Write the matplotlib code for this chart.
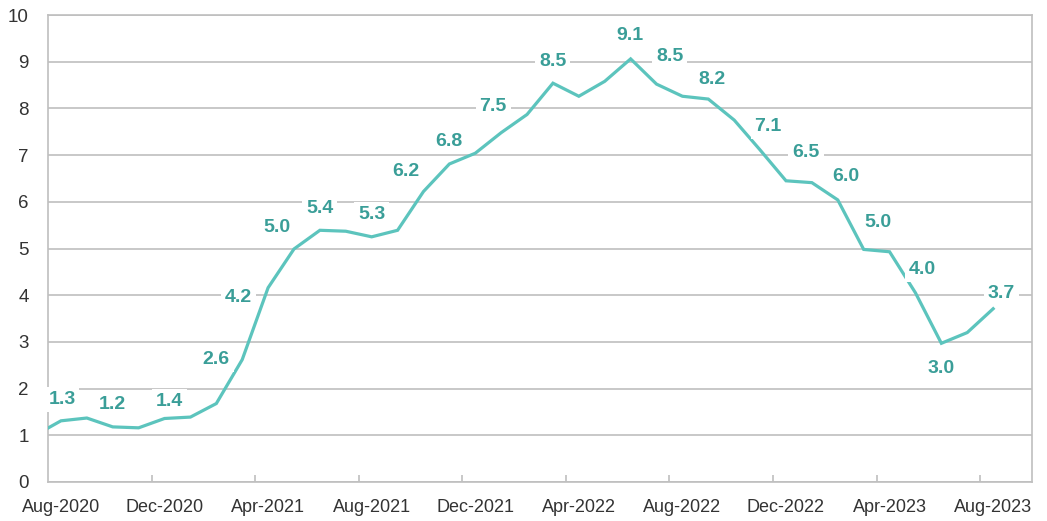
import matplotlib.pyplot as plt
import numpy as np

# monthly values, Jul-2020 .. Aug-2023 (first point sits just off the left edge)
months = ["Jul-2020", "Aug-2020", "Sep-2020", "Oct-2020", "Nov-2020", "Dec-2020",
          "Jan-2021", "Feb-2021", "Mar-2021", "Apr-2021", "May-2021", "Jun-2021",
          "Jul-2021", "Aug-2021", "Sep-2021", "Oct-2021", "Nov-2021", "Dec-2021",
          "Jan-2022", "Feb-2022", "Mar-2022", "Apr-2022", "May-2022", "Jun-2022",
          "Jul-2022", "Aug-2022", "Sep-2022", "Oct-2022", "Nov-2022", "Dec-2022",
          "Jan-2023", "Feb-2023", "Mar-2023", "Apr-2023", "May-2023", "Jun-2023",
          "Jul-2023", "Aug-2023"]
values = [1.0, 1.31, 1.37, 1.18, 1.16, 1.36,
          1.39, 1.68, 2.62, 4.16, 4.99, 5.39,
          5.37, 5.25, 5.39, 6.22, 6.81, 7.04,
          7.48, 7.87, 8.54, 8.26, 8.58, 9.06,
          8.52, 8.26, 8.20, 7.75, 7.11, 6.45,
          6.41, 6.04, 4.98, 4.93, 4.05, 2.97,
          3.20, 3.71]

# labelled months and their printed values
label_months = ["Aug-2020", "Oct-2020", "Dec-2020", "Mar-2021", "Apr-2021", "May-2021",
                "Jun-2021", "Aug-2021", "Oct-2021", "Nov-2021", "Jan-2022", "Mar-2022",
                "Jun-2022", "Jul-2022", "Sep-2022", "Nov-2022", "Dec-2022", "Feb-2023",
                "Mar-2023", "May-2023", "Jun-2023", "Aug-2023"]
label_text = ["1.3", "1.2", "1.4", "2.6", "4.2", "5.0",
              "5.4", "5.3", "6.2", "6.8", "7.5", "8.5",
              "9.1", "8.5", "8.2", "7.1", "6.5", "6.0",
              "5.0", "4.0", "3.0", "3.7"]

tick_months = ["Aug-2020", "Dec-2020", "Apr-2021", "Aug-2021", "Dec-2021",
               "Apr-2022", "Aug-2022", "Dec-2022", "Apr-2023", "Aug-2023"]

# label offsets from their point, in pixels (placement only)
label_offsets = [(1, 21), (0, 22), (5, 17), (-26, 0), (-30, -10), (-17, 21),
                 (0, 22), (0, 22), (-18, 20), (0, 22), (-8, 26), (0, 22),
                 (-1, 23), (13, 28), (4, 20), (8, 23), (20, 28), (8, 23),
                 (14, 27), (7, 23), (0, -25), (8, 15)]

LINE_COLOR = "#5cc4bd"
TEXT_COLOR = "#3a9e98"
GRID_COLOR = "#bfbfbf"

fig = plt.figure(figsize=(10.47, 5.21), dpi=100)
ax = fig.add_axes([48 / 1047, 1 - 482 / 521, (1032 - 48) / 1047, (482 - 15) / 521])

x = np.arange(len(months))
ax.plot(x, values, color=LINE_COLOR, lw=2.3, solid_joinstyle="miter", zorder=3)

for name, txt, (dx, dy) in zip(label_months, label_text, label_offsets):
    i = months.index(name)
    ax.annotate(txt, (i, values[i]), xytext=(dx, dy), textcoords="offset pixels",
                ha="center", va="center", fontsize=14, fontweight="bold",
                family="Liberation Sans", color=TEXT_COLOR, zorder=4,
                bbox=dict(boxstyle="square,pad=0.2", fc="white", ec="none"))

ax.set_xlim(0.5, 38.5)
ax.set_ylim(0, 10)
ax.set_yticks(range(0, 11))
ax.grid(axis="y", color=GRID_COLOR, lw=1.2)
ax.set_axisbelow(True)

ax.set_xticks([months.index(m) for m in tick_months])
ax.set_xticklabels(tick_months)
ax.set_xticks([months.index(m) - 0.5 for m in tick_months[1:]], minor=True)
ax.tick_params(axis="x", which="major", length=0, pad=12, labelsize=13, labelcolor="#333333")
ax.tick_params(axis="x", which="minor", direction="in", length=5, color=GRID_COLOR, width=1.2)
ax.tick_params(axis="y", length=0, pad=14, labelsize=13.5, labelcolor="#333333")
for lab in ax.get_xticklabels() + ax.get_yticklabels():
    lab.set_family("Liberation Sans")

for s in ax.spines.values():
    s.set_color(GRID_COLOR)
    s.set_linewidth(1.2)

fig.savefig("out.png", dpi=100)
